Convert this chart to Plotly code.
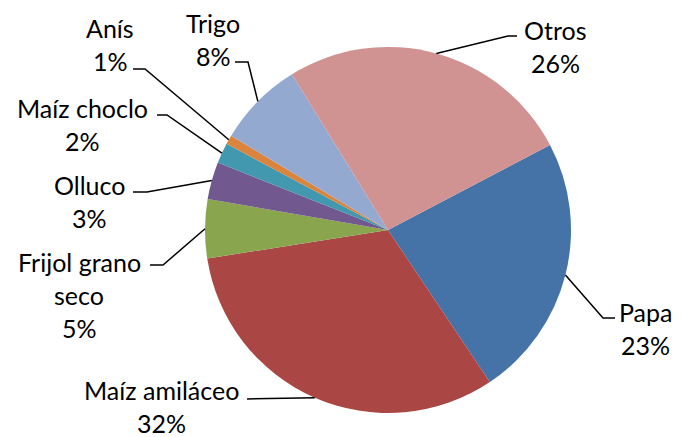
import math
import plotly.graph_objects as go

# datos (porcentaje de superficie)
cultivos = ["Papa", "Maíz amiláceo", "Frijol grano seco", "Olluco",
            "Maíz choclo", "Anís", "Trigo", "Otros"]
valores = [23.3, 31.9, 5.2, 3.3, 1.8, 0.8, 7.6, 26.1]
colores = ["#4572A7", "#AA4643", "#89A54E", "#71588F",
           "#4198AF", "#DB843D", "#93A9CF", "#D19392"]

# lineas de texto de cada etiqueta (el % se agrega abajo)
etiquetas = [["Papa"], ["Maíz amiláceo"], ["Frijol grano", "seco"], ["Olluco"],
             ["Maíz choclo"], ["Anís"], ["Trigo"], ["Otros"]]

# la pagina tiene 8px de margen en el body
OFF = 8
W, H = 682 - OFF, 437 - OFF
CX, CY, R = 388, 230, 183
ROT = 62.3

# posicion (px en la ventana) del centro de la primera linea y codo de la guia
pos_texto = [(645, 312), (161, 390), (79, 262), (89, 185),
             (82, 108), (110, 28), (213, 23), (555, 30)]
codo = [[(603, 318), (615, 318)], [(247, 399)], [(163, 265), (150, 265)],
        [(147, 192), (133, 192)], [(167, 115), (157, 115)],
        [(145, 69), (133, 69)], [(248, 62), (235, 62)], [(508, 36), (517, 36)]]
SALTO = 33
FUENTE = dict(family="Lato", size=25, color="black")


def px(x, y):
    return (x - OFF) / W, 1 - (y - OFF) / H


x0, y0 = px(CX - R, CY + R)
x1, y1 = px(CX + R, CY - R)
fig = go.Figure(go.Pie(
    labels=cultivos, values=valores, sort=False, direction="clockwise",
    rotation=ROT, marker=dict(colors=colores, line=dict(width=0)),
    textinfo="none", hoverinfo="label+percent",
    domain=dict(x=[x0, x1], y=[y0, y1]),
))

total = sum(valores)
acum = 0
anotaciones = []
formas = []
for i, v in enumerate(valores):
    medio = math.radians(ROT + (acum + v / 2) / total * 360)
    acum += v
    ex, ey = CX + R * math.sin(medio), CY - R * math.cos(medio)
    pts = [(ex, ey)] + codo[i]
    path = "M " + " L ".join("%.4f,%.4f" % px(x, y) for x, y in pts)
    formas.append(dict(type="path", path=path, xref="paper", yref="paper",
                       line=dict(color="black", width=1.5)))
    lineas = etiquetas[i] + ["%d%%" % round(v / total * 100)]
    tx, ty = pos_texto[i]
    for j, t in enumerate(lineas):
        x, y = px(tx, ty + j * SALTO)
        anotaciones.append(dict(text=t, x=x, y=y, xref="paper", yref="paper",
                                xanchor="center", yanchor="middle",
                                showarrow=False, font=FUENTE))

fig.update_layout(
    width=W, height=H, margin=dict(l=0, r=0, t=0, b=0),
    paper_bgcolor="white", plot_bgcolor="white", showlegend=False,
    annotations=anotaciones, shapes=formas,
)
fig.write_html("out.html")
